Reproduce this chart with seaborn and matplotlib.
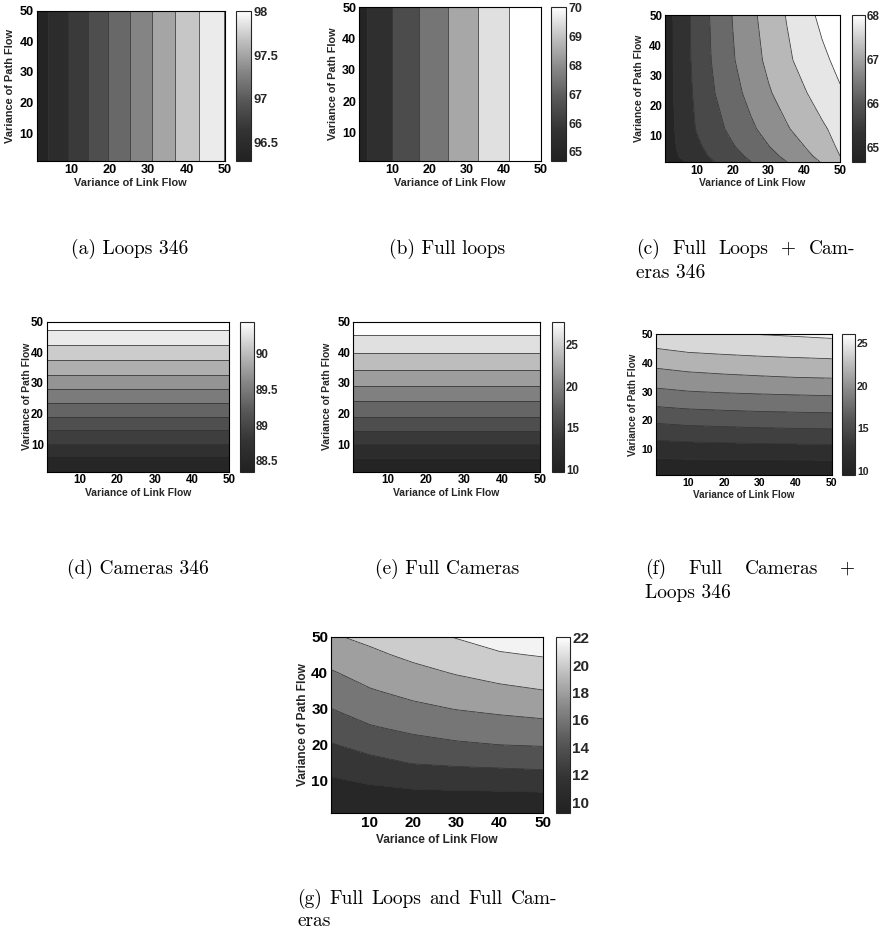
import numpy as np
import matplotlib
matplotlib.use("Agg")
import matplotlib.pyplot as plt
import seaborn as sns
from matplotlib.colors import LinearSegmentedColormap, Normalize
from matplotlib.cm import ScalarMappable

# ---------------- data ----------------
flow_1d = [1, 5, 10, 15, 20, 25, 30, 35, 40, 45, 50]

# (a) Loops 346 : depends on link flow only
a_vals = [96.29, 96.435, 96.627, 96.823, 97.011, 97.193, 97.363, 97.534, 97.695, 97.852, 98.01]
a_levels = [96.4, 96.6, 96.8, 97.0, 97.2, 97.4, 97.6, 97.8, 98.0]
a_clim = [96.29, 98.01]
a_cticks = [96.5, 97, 97.5, 98]

# (b) Full loops : depends on link flow only
b_vals = [64.68, 65.27, 66.03, 66.72, 67.38, 68.01, 68.64, 69.25, 69.86, 70.39, 70.9]
b_levels = [65, 66, 67, 68, 69, 70]
b_clim = [64.68, 70.03]
b_cticks = [65, 66, 67, 68, 69, 70]

# (c) Full Loops + Cameras 346 : 2-D field
c_link = [1, 5, 10, 15, 20, 25, 30, 35, 40, 45, 50]
c_path = [1, 3, 6, 12, 24, 35, 50]
c_vals = [
    [64.66, 64.90, 65.20, 65.50, 65.74, 65.99, 66.24, 66.49, 66.76, 67.03, 67.30],
    [64.71, 65.01, 65.33, 65.61, 65.85, 66.09, 66.35, 66.60, 66.86, 67.15, 67.50],
    [64.74, 65.07, 65.41, 65.70, 65.96, 66.22, 66.48, 66.73, 66.99, 67.28, 67.57],
    [64.75, 65.12, 65.54, 65.84, 66.13, 66.41, 66.68, 66.95, 67.19, 67.43, 67.66],
    [64.76, 65.16, 65.62, 66.00, 66.33, 66.65, 66.95, 67.21, 67.46, 67.71, 67.95],
    [64.76, 65.18, 65.67, 66.09, 66.46, 66.79, 67.11, 67.41, 67.66, 67.90, 68.13],
    [64.76, 65.19, 65.70, 66.13, 66.52, 66.88, 67.21, 67.52, 67.82, 68.12, 68.42],
]
c_levels = [65, 65.5, 66, 66.5, 67, 67.5, 68]
c_clim = [64.66, 68.02]
c_cticks = [65, 66, 67, 68]

# (d) Cameras 346 : depends on path flow only
d_vals = [88.35, 88.554, 88.791, 89.018, 89.248, 89.475, 89.691, 89.904, 90.106, 90.315, 90.5]
d_levels = [88.6, 88.8, 89.0, 89.2, 89.4, 89.6, 89.8, 90.0, 90.2, 90.4]
d_clim = [88.35, 90.44]
d_cticks = [88.5, 89, 89.5, 90]

# (e) Full Cameras : depends on path flow only
e_vals = [9.7, 10.78, 12.91, 15.27, 17.46, 19.39, 21.36, 23.32, 25.07, 26.79, 28.4]
e_levels = [11, 13, 15, 17, 19, 21, 23, 25, 27]
e_clim = [9.7, 27.8]
e_cticks = [10, 15, 20, 25]

# (f) Full Cameras + Loops 346 : 2-D field
f_link = [1, 10, 20, 30, 40, 50]
f_path = [1, 5, 10, 15, 20, 25, 30, 35, 40, 45, 50]
f_vals = [
    [9.60, 9.60, 9.55, 9.50, 9.50, 9.50],
    [10.48, 10.52, 10.52, 10.53, 10.55, 10.57],
    [11.93, 12.09, 12.19, 12.28, 12.33, 12.39],
    [13.67, 13.88, 14.00, 14.12, 14.19, 14.25],
    [15.34, 15.61, 15.76, 15.91, 16.00, 16.07],
    [17.06, 17.35, 17.52, 17.65, 17.74, 17.82],
    [18.63, 18.94, 19.12, 19.25, 19.36, 19.46],
    [20.09, 20.43, 20.66, 20.84, 21.00, 21.09],
    [21.52, 21.91, 22.15, 22.34, 22.47, 22.58],
    [22.97, 23.38, 23.57, 23.73, 23.86, 24.00],
    [24.50, 24.85, 24.90, 25.03, 25.20, 25.40],
]
f_levels = [11, 13, 15, 17, 19, 21, 23, 25]
f_clim = [9.53, 26.0]
f_cticks = [10, 15, 20, 25]

# (g) Full Loops and Full Cameras : 2-D field
g_link = [1, 10, 20, 30, 40, 50]
g_path = [1, 5, 10, 15, 20, 25, 30, 35, 40, 45, 50]
g_vals = [
    [9.40, 9.30, 9.25, 9.20, 9.20, 9.20],
    [10.00, 10.14, 10.26, 10.31, 10.34, 10.40],
    [10.76, 11.22, 11.62, 11.78, 11.87, 12.00],
    [11.76, 12.46, 13.08, 13.31, 13.46, 13.62],
    [12.87, 13.67, 14.33, 14.74, 15.00, 15.13],
    [13.93, 14.88, 15.49, 15.93, 16.20, 16.43],
    [14.98, 15.88, 16.57, 17.06, 17.40, 17.70],
    [15.91, 16.86, 17.55, 18.09, 18.56, 18.95],
    [16.83, 17.75, 18.47, 19.12, 19.70, 20.05],
    [17.81, 18.62, 19.41, 20.12, 20.82, 21.13],
    [18.80, 19.45, 20.40, 21.10, 21.80, 22.05],
]
g_levels = [11, 13, 15, 17, 19, 21]
g_clim = [9.2, 22.07]
g_cticks = [10, 12, 14, 16, 18, 20, 22]

axis_ticks = [10, 20, 30, 40, 50]
xlabel = "Variance of Link Flow"
ylabel = "Variance of Path Flow"

# ---------------- style ----------------
sns.set_theme(style="white")
plt.rcParams["font.family"] = ["Liberation Sans", "DejaVu Sans"]
plt.rcParams["font.weight"] = "bold"
plt.rcParams["axes.labelweight"] = "bold"

W, H = 885, 933
fig = plt.figure(figsize=(W / 100, H / 100), dpi=100)
fig.patch.set_facecolor("white")

cmap = LinearSegmentedColormap.from_list(
    "scan_gray",
    [(0.0, (0.13,) * 3), (0.2, (0.2,) * 3), (0.4, (0.34,) * 3),
     (0.6, (0.53,) * 3), (0.8, (0.75,) * 3), (1.0, (1.0,) * 3)])


def box(l, t, r, b):
    return [l / W, 1 - b / H, (r - l) / W, (b - t) / H]


def panel(X, Y, Z, levels, clim, cticks, pbox, cbox, tfs, lfs, yoff, xoff):
    Z = np.asarray(Z, dtype=float)
    XX, YY = np.meshgrid(X, Y)
    ax = fig.add_axes(box(*pbox))
    norm = Normalize(vmin=clim[0], vmax=clim[1])
    lo = min(Z.min(), clim[0]) - 1e-3
    hi = max(Z.max(), clim[1]) + 1e-3
    ax.contourf(XX, YY, Z, levels=[lo] + list(levels) + [hi], cmap=cmap, norm=norm)
    ax.contour(XX, YY, Z, levels=levels, colors="#333333", linewidths=0.55)
    ax.set_xlim(1, 50)
    ax.set_ylim(1, 50)
    ax.set_xticks(axis_ticks)
    ax.set_yticks(axis_ticks)
    ax.tick_params(direction="in", length=3, width=0.6, top=True, right=True,
                   labelsize=tfs, pad=2, colors="black")
    for s in ax.spines.values():
        s.set_linewidth(0.8)
        s.set_color("black")
    hpx = pbox[3] - pbox[1]
    wpx = pbox[2] - pbox[0]
    ax.set_xlabel(xlabel, fontsize=lfs, va="center")
    ax.set_ylabel(ylabel, fontsize=lfs, va="center")
    ax.xaxis.set_label_coords(0.5, -xoff / hpx)
    ax.yaxis.set_label_coords(-yoff / wpx, 0.5)

    cax = fig.add_axes(box(*cbox))
    cb = fig.colorbar(ScalarMappable(norm=norm, cmap=cmap), cax=cax)
    cb.outline.set_linewidth(0.8)
    cb.set_ticks(cticks)
    cb.set_ticklabels([f"{t:g}" for t in cticks])
    cax.tick_params(direction="in", length=3, width=0.6, labelsize=tfs, pad=1.5,
                    left=True, right=True)
    return ax


panel(flow_1d, [1, 50], [a_vals, a_vals], a_levels, a_clim, a_cticks,
      (36.5, 10.5, 225, 161), (236, 10.5, 251, 161), 9.2, 7.9, 26.5, 22)
panel(flow_1d, [1, 50], [b_vals, b_vals], b_levels, b_clim, b_cticks,
      (359, 7, 541, 161), (551, 7, 566, 161), 9.0, 7.8, 26, 21.7)
panel(c_link, c_path, c_vals, c_levels, c_clim, c_cticks,
      (665, 15, 840, 162), (852, 15, 865, 162), 8.3, 7.5, 26, 21.3)
panel([1, 50], flow_1d, np.column_stack([d_vals, d_vals]), d_levels, d_clim, d_cticks,
      (46.7, 321.7, 229.3, 471.7), (240, 321.7, 254, 471.7), 8.3, 7.5, 20, 21.7)
panel([1, 50], flow_1d, np.column_stack([e_vals, e_vals]), e_levels, e_clim, e_cticks,
      (353.3, 321.7, 540, 471.7), (551.7, 321.7, 564, 471.7), 8.3, 7.5, 26.6, 21.7)
panel(f_link, f_path, f_vals, f_levels, f_clim, f_cticks,
      (656, 334.3, 831.7, 475), (841.7, 334.3, 855, 475), 7.6, 7.1, 22.7, 20)
panel(g_link, g_path, g_vals, g_levels, g_clim, g_cticks,
      (331, 636.7, 542.7, 813.3), (556, 636.7, 570, 813.3), 11.0, 8.6, 27.7, 27)

# ---------------- captions ----------------
CAP_FONT = ["cmr10", "DejaVu Serif"]
CAP_FS = 14


def cap(x, y, s):
    return fig.text(x / W, 1 - y / H, s, family=CAP_FONT, fontsize=CAP_FS,
                    fontweight="normal", ha="left", va="baseline", color="black")


def cap_justified(x0, x1, y, words):
    texts = [cap(x0, y, w) for w in words]
    r = fig.canvas.get_renderer()
    widths = [t.get_window_extent(r).width for t in texts]
    gap = (x1 - x0 - sum(widths)) / (len(words) - 1)
    x = x0
    for t, w in zip(texts, widths):
        t.set_x(x / W)
        x += w + gap


cap(71, 254, "(a) Loops 346")
cap(389, 254, "(b) Full loops")
cap_justified(636, 855, 254, ["(c)", "Full", "Loops", "+", "Cam-"])
cap(636, 278, "eras 346")
cap(67, 574, "(d) Cameras 346")
cap(375, 574, "(e) Full Cameras")
cap_justified(645, 855, 574, ["(f)", "Full", "Cameras", "+"])
cap(645, 598, "Loops 346")
cap_justified(297, 557, 904, ["(g)", "Full", "Loops", "and", "Full", "Cam-"])
cap(297, 926, "eras")

fig.savefig("out.png", dpi=100, facecolor="white")
